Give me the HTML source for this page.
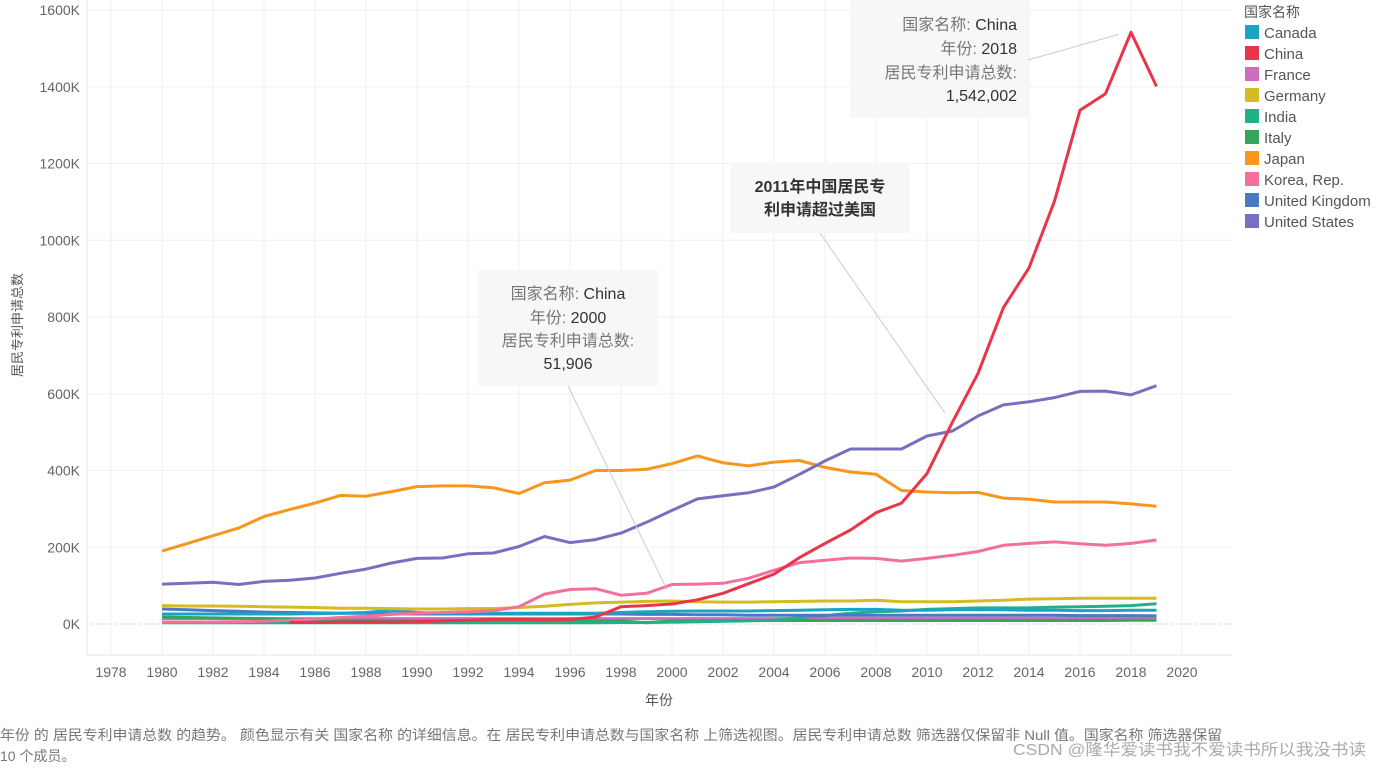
<!DOCTYPE html>
<html><head><meta charset="utf-8">
<style>
body{margin:0;background:#fff;width:1382px;height:767px;overflow:hidden;font-family:"Liberation Sans","Noto Sans CJK SC",sans-serif;}
svg text{font-family:"Liberation Sans","Noto Sans CJK SC",sans-serif;}
</style></head>
<body>
<svg id="chart" width="1382" height="767" xmlns="http://www.w3.org/2000/svg"></svg>
<script>
const years=[1980,1981,1982,1983,1984,1985,1986,1987,1988,1989,1990,1991,1992,1993,1994,1995,1996,1997,1998,1999,2000,2001,2002,2003,2004,2005,2006,2007,2008,2009,2010,2011,2012,2013,2014,2015,2016,2017,2018,2019];
const countries=["Canada","China","France","Germany","India","Italy","Japan","Korea, Rep.","United Kingdom","United States"];
const colors=["#1ba3c6","#e8354a","#cf6cc0","#d4bb22","#21b087","#33a65c","#f8961e","#f46f9c","#4a7bc1","#7570c0"];
const canada=[26,26,26,26,26,26,27,28,30,36,30,28,28,28,28,28,28,28,30,32,33,34,34,34,35,36,37,38,38,36,36,37,37,37,36,36,35,35,36,36];
const china=[null,null,null,null,null,4,4,5,5,5,6,8,10,12,12,11,12,18,45,48,52,63,80,105,130,173,210,245,290,315,392,526,653,825,928,1102,1339,1382,1542,1401];
const france=[14,14,14,14,14,14,14,14,14,14,14,14,14,14,14,14,14,14,14,14,14,14,14,14,14,14,15,15,15,15,15,15,15,15,15,15,15,15,15,15];
const germany=[48,47,47,46,45,44,43,41,41,40,39,39,40,40,43,46,51,55,57,59,60,58,57,57,58,59,60,60,62,58,58,58,60,62,65,66,67,67,67,67];
const india=[3,3,3,3,3,3,3,3,3,3,3,3,3,3,3,3,3,3,4,4,5,6,7,8,10,17,22,28,32,34,38,40,42,42,42,44,45,46,48,53];
const italy=[18,17,16,15,14,12,11,10,9,8,8,8,8,8,8,8,8,8,8,3,8,8,9,9,9,9,9,9,9,9,9,9,9,9,9,9,9,9,10,10];
const japan=[190,210,230,250,280,298,315,335,333,345,358,360,360,355,340,368,375,400,400,403,418,438,420,412,422,426,408,396,390,348,344,342,343,328,325,318,318,318,313,307];
const korea=[5,5,5,6,7,10,13,17,20,25,28,30,32,35,45,78,90,92,75,80,103,104,106,119,140,160,166,172,171,164,171,179,189,205,210,214,209,205,210,219];
const uk=[39,37,35,33,31,30,29,28,28,27,26,26,26,26,26,26,26,26,26,25,25,24,24,23,23,23,23,23,23,23,23,23,23,23,23,23,22,22,22,21];
const us=[104,106,109,103,111,114,120,132,143,159,171,172,183,185,202,228,212,220,237,265,296,326,334,342,357,390,425,456,456,456,490,503,542,571,579,590,606,607,597,621];
const series=[canada,china,france,germany,india,italy,japan,korea,uk,us];
const yTicks=[0,200,400,600,800,1000,1200,1400,1600];
const xTicks=[1978,1980,1982,1984,1986,1988,1990,1992,1994,1996,1998,2000,2002,2004,2006,2008,2010,2012,2014,2016,2018,2020];
const drawOrder=[2,5,4,8,0,3,7,6,9,1];

const svg=document.getElementById('chart');
const NS='http://www.w3.org/2000/svg';
const X=y=>111+(y-1978)*(1071/42);
const Y=v=>624-v*0.38375;
function mk(tag,attrs,parent){const e=document.createElementNS(NS,tag);for(const k in attrs)e.setAttribute(k,attrs[k]);(parent||svg).appendChild(e);return e;}

const grid=mk('g',{});


xTicks.forEach(t=>{mk('line',{x1:X(t),x2:X(t),y1:0,y2:655,stroke:'#efefef','stroke-width':1},grid);});
yTicks.forEach(t=>{if(t>0)mk('line',{x1:87,x2:1232,y1:Y(t),y2:Y(t),stroke:'#efefef','stroke-width':1},grid);});
mk('line',{x1:87,x2:87,y1:0,y2:655,stroke:'#e6e6e6'},grid);
mk('line',{x1:87,x2:1232,y1:655,y2:655,stroke:'#e6e6e6'},grid);
mk('line',{x1:87,x2:1232,y1:Y(0),y2:Y(0),stroke:'#bbb','stroke-dasharray':'1,2'},grid);

const ya=mk('g',{});


yTicks.forEach(t=>{const tx=mk('text',{x:80,y:Y(t)+5,'text-anchor':'end','font-size':14,fill:'#666'},ya);tx.textContent=t+'K';});
const yt=mk('text',{x:22,y:325,'text-anchor':'middle','font-size':13,fill:'#555',transform:'rotate(-90 22 325)'},ya);


yt.textContent='居民专利申请总数';

const xa=mk('g',{});


xTicks.forEach(t=>{const tx=mk('text',{x:X(t),y:677,'text-anchor':'middle','font-size':14,fill:'#666'},xa);tx.textContent=t;});
const xt=mk('text',{x:659,y:705,'text-anchor':'middle','font-size':14,fill:'#555'},xa);


xt.textContent='年份';

drawOrder.forEach(i=>{
  let d='';let started=false;
  series[i].forEach((v,j)=>{if(v===null){started=false;return;}d+=(started?'L':'M')+X(years[j]).toFixed(1)+','+Y(v).toFixed(1);started=true;});
  const p=mk('path',{d:d,fill:'none',stroke:colors[i],'stroke-width':3,'stroke-linejoin':'round'});
  
  
});

function ann(name,bx,by,bw,bh,lines,px,py,lx,ly){
  const g=mk('g',{});
  
  
  mk('line',{x1:lx,y1:ly,x2:px,y2:py,stroke:'#ccc','stroke-width':1},g);
  mk('rect',{x:bx,y:by,width:bw,height:bh,fill:'#f7f7f7','fill-opacity':0.95},g);
  lines.forEach((l,k)=>{const t=mk('text',{x:l.x,y:l.y,'text-anchor':l.a||'middle','font-size':16,fill:l.c||'#777','font-weight':l.b?'bold':'normal'},g);t.innerHTML=l.t;});
}
ann('annotation-china-2018',850,0,178,118,[
 {x:1017,y:30,a:'end',t:'国家名称: <tspan fill="#333">China</tspan>'},
 {x:1017,y:54,a:'end',t:'年份: <tspan fill="#333">2018</tspan>'},
 {x:1017,y:78,a:'end',t:'居民专利申请总数:'},
 {x:1017,y:101,a:'end',c:'#333',t:'1,542,002'}],X(2018)-12,Y(1542)+2,1028,60);
ann('annotation-china-2000',478,270,180,116,[
 {x:568,y:299,t:'国家名称: <tspan fill="#333">China</tspan>'},
 {x:568,y:323,t:'年份: <tspan fill="#333">2000</tspan>'},
 {x:568,y:346,t:'居民专利申请总数:'},
 {x:568,y:369,c:'#333',t:'51,906'}],X(1999.8),Y(90),568,386);
ann('annotation-2011',730,163,180,70,[
 {x:820,y:192,c:'#333',b:1,t:'2011年中国居民专'},
 {x:820,y:215,c:'#333',b:1,t:'利申请超过美国'}],X(2010.7),Y(550),820,233);

const lg=mk('g',{});


const lt=mk('text',{x:1244,y:17,'font-size':14,fill:'#555'},lg);lt.textContent='国家名称';
countries.forEach((c,i)=>{
  const e=mk('g',{},lg);
  
  
  mk('rect',{x:1245,y:25+i*21,width:14,height:14,fill:colors[i]},e);
  const t=mk('text',{x:1264,y:38+i*21,'font-size':15,fill:'#555'},e);t.textContent=c;
});

const f=mk('g',{});


const f1=mk('text',{x:0,y:740,'font-size':14,fill:'#777',textLength:1222,lengthAdjust:'spacingAndGlyphs'},f);f1.textContent='年份 的 居民专利申请总数 的趋势。 颜色显示有关 国家名称 的详细信息。在 居民专利申请总数与国家名称 上筛选视图。居民专利申请总数 筛选器仅保留非 Null 值。国家名称 筛选器保留';
const f2=mk('text',{x:0,y:761,'font-size':14,fill:'#777'},f);f2.textContent='10 个成员。';
const w=mk('text',{x:1013,y:755,'font-size':16,fill:'#aaa',textLength:353,lengthAdjust:'spacingAndGlyphs'});


w.textContent='CSDN @隆华爱读书我不爱读书所以我没书读';
</script>
</body></html>
